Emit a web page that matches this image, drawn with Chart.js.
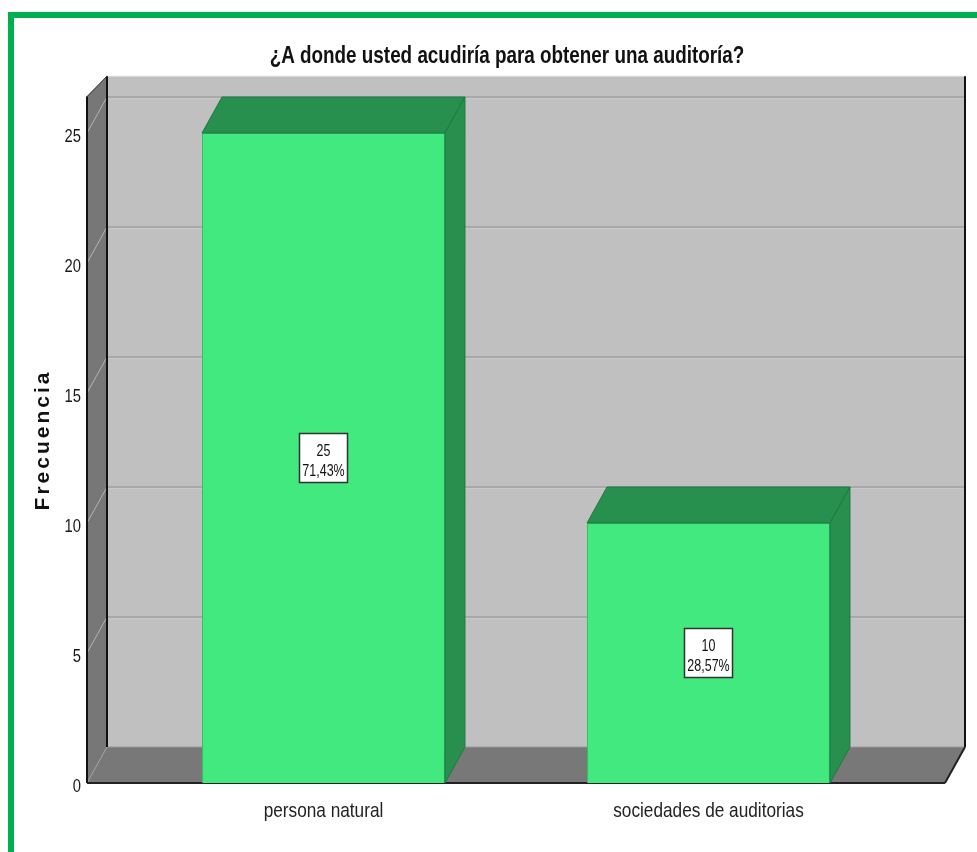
<!DOCTYPE html>
<html><head><meta charset="utf-8">
<script src="https://cdn.jsdelivr.net/npm/chart.js@4"></script>
<style>
html,body{margin:0;padding:0;background:#fff;overflow:hidden;}
#wrap{position:relative;width:977px;height:852px;}
#frame{position:absolute;left:8px;top:12px;width:990px;height:870px;border-left:6px solid #00B050;border-top:6px solid #00B050;box-sizing:border-box;pointer-events:none}
canvas{position:absolute;left:0;top:0}
</style></head>
<body><div id="wrap"><canvas id="c" width="977" height="852"></canvas><div id="frame"></div></div>
<script>
// ---- data ----
const categories = ['persona natural', 'sociedades de auditorias'];
const frequencies = [25, 10];
const percentLabels = ['71,43%', '28,57%'];
const yTicks = [0, 5, 10, 15, 20, 25];
const yMin = 0;
const yMax = 25;
const chartTitle = '¿A donde usted acudiría para obtener una auditoría?';
const yAxisTitle = 'Frecuencia';

// ---- styling ----
const SANS = "'Liberation Sans',Arial,sans-serif";
const NARROW_SCALE = 0.82;
const DEPTH_X = 20, DEPTH_Y = -36, SIDE = 44;
const WALL_TOP_BACK = 25.8, WALL_TOP_FRONT = 26.4;

function poly(ctx, pts, fill, stroke, lw) {
  ctx.beginPath();
  ctx.moveTo(pts[0][0], pts[0][1]);
  for (let i = 1; i < pts.length; i++) ctx.lineTo(pts[i][0], pts[i][1]);
  ctx.closePath();
  if (fill) { ctx.fillStyle = fill; ctx.fill(); }
  if (stroke) { ctx.strokeStyle = stroke; ctx.lineWidth = lw || 1; ctx.stroke(); }
}
function line(ctx, x1, y1, x2, y2, color, lw) {
  ctx.beginPath(); ctx.moveTo(x1, y1); ctx.lineTo(x2, y2);
  ctx.strokeStyle = color; ctx.lineWidth = lw; ctx.stroke();
}
// narrow (Arial-Narrow-like) text: horizontally condensed Liberation Sans
function narrowText(ctx, text, x, y, font, align, color, scale) {
  const s = scale || NARROW_SCALE;
  ctx.save();
  ctx.translate(x, y);
  ctx.scale(s, 1);
  ctx.font = font;
  ctx.fillStyle = color;
  ctx.textAlign = align;
  ctx.textBaseline = 'alphabetic';
  ctx.fillText(text, 0, 0);
  ctx.restore();
}

const threeD = {
  id: 'threeD',
  beforeDatasetsDraw(chart) {
    const { ctx, chartArea: a, scales: { y } } = chart;
    const dx = DEPTH_X, dy = DEPTH_Y;
    const y0 = y.getPixelForValue(0);
    const fl = a.left - SIDE, fr = a.right + SIDE;
    const topBack = y.getPixelForValue(WALL_TOP_BACK) + dy;
    const topFront = y.getPixelForValue(WALL_TOP_FRONT);
    ctx.save();
    // back wall
    ctx.fillStyle = '#C0C0C0';
    ctx.fillRect(fl + dx, topBack, fr - fl, y0 + dy - topBack);
    // back grid lines
    yTicks.forEach(v => {
      if (v === 0) return;
      const py = y.getPixelForValue(v) + dy;
      line(ctx, fl + dx, py, fr + dx, py, '#A8A8A8', 2);
      line(ctx, fl + dx, py + 1.5, fr + dx, py + 1.5, '#C9C9C9', 1);
    });
    // left wall
    poly(ctx, [[fl, y0], [fl, topFront], [fl + dx, topBack], [fl + dx, y0 + dy]], '#777777');
    yTicks.forEach(v => {
      if (v === 0) return;
      const py = y.getPixelForValue(v);
      line(ctx, fl, py, fl + dx, py + dy, '#B4B4B4', 1);
    });
    // floor
    poly(ctx, [[fl, y0], [fl + dx, y0 + dy], [fr + dx, y0 + dy], [fr, y0]], '#787878');
    line(ctx, fl + dx, y0 + dy, fr + dx, y0 + dy, '#9A9A9A', 1);
    line(ctx, fl, y0, fl + dx, y0 + dy, '#A0A0A0', 1);
    // edges
    line(ctx, fl + dx, topBack, fr + dx, topBack, '#E0E0E0', 1);
    line(ctx, fl + dx, topBack, fl + dx, y0 + dy, '#111', 2);
    line(ctx, fl, topFront, fl, y0, '#111', 2);
    line(ctx, fl, topFront, fl + dx, topBack, '#222', 1);
    line(ctx, fr + dx, topBack, fr + dx, y0 + dy, '#111', 2);
    line(ctx, fl, y0, fr, y0, '#222', 2);
    line(ctx, fr, y0, fr + dx, y0 + dy, '#222', 2);
    ctx.restore();
  },
  afterDatasetsDraw(chart) {
    const { ctx, scales: { y } } = chart;
    const dx = DEPTH_X, dy = DEPTH_Y;
    const meta = chart.getDatasetMeta(0);
    ctx.save();
    meta.data.forEach((bar, i) => {
      const p = bar.getProps(['x', 'y', 'base', 'width'], true);
      const l = p.x - p.width / 2, r = p.x + p.width / 2;
      poly(ctx, [[l, p.y], [l + dx, p.y + dy], [r + dx, p.y + dy], [r, p.y]], '#27904E', '#1E7840', 1);
      poly(ctx, [[r, p.y], [r + dx, p.y + dy], [r + dx, p.base + dy], [r, p.base]], '#27904E', '#1E7840', 1);
      // value label box
      const cy = y.getPixelForValue(frequencies[i] / 2);
      const bw = 48, bh = 49;
      ctx.fillStyle = '#FFFFFF';
      ctx.fillRect(p.x - bw / 2, cy - bh / 2, bw, bh);
      ctx.strokeStyle = '#333';
      ctx.lineWidth = 1.5;
      ctx.strokeRect(p.x - bw / 2, cy - bh / 2, bw, bh);
      narrowText(ctx, String(frequencies[i]), p.x, cy - 2.5, '16px ' + SANS, 'center', '#111', 0.78);
      narrowText(ctx, percentLabels[i], p.x, cy + 18, '16px ' + SANS, 'center', '#111', 0.78);
    });
    ctx.restore();
  },
  afterDraw(chart) {
    const { ctx, chartArea: a, scales: { x, y } } = chart;
    // title
    narrowText(ctx, chartTitle, 507, 63, 'bold 23px ' + SANS, 'center', '#111');
    // y tick labels (from the library's y scale)
    y.ticks.forEach(t => {
      const py = y.getPixelForValue(t.value);
      narrowText(ctx, String(t.value), a.left - SIDE - 6, py + 8.5, '18px ' + SANS, 'right', '#1a1a1a');
    });
    // category labels (from the library's x scale)
    categories.forEach((c, i) => {
      const px = x.getPixelForValue(i);
      narrowText(ctx, c, px, 817, '21px ' + SANS, 'center', '#222');
    });
    // y axis title
    ctx.save();
    ctx.translate(43, 440);
    ctx.rotate(-Math.PI / 2);
    ctx.font = 'bold 21px ' + SANS;
    try { ctx.letterSpacing = '3px'; } catch (e) {}
    ctx.fillStyle = '#111';
    ctx.textAlign = 'center';
    ctx.textBaseline = 'middle';
    ctx.fillText(yAxisTitle, 0, 0);
    ctx.restore();
  }
};

new Chart(document.getElementById('c'), {
  type: 'bar',
  data: {
    labels: categories,
    datasets: [{
      data: frequencies,
      backgroundColor: '#41E97E',
      borderColor: '#33C066',
      borderWidth: 1,
      categoryPercentage: 1,
      barPercentage: 0.631
    }]
  },
  options: {
    responsive: false,
    animation: false,
    devicePixelRatio: 1,
    layout: { padding: { left: 113, right: 76, top: 133, bottom: 0 } },
    plugins: {
      legend: { display: false },
      tooltip: { enabled: false },
      title: { display: false, text: chartTitle }
    },
    scales: {
      x: {
        type: 'category',
        offset: true,
        grid: { display: false },
        border: { display: false },
        ticks: { display: false },
        afterFit: s => { s.height = 69; }
      },
      y: {
        min: yMin,
        max: yMax,
        grid: { display: false },
        border: { display: false },
        afterBuildTicks: s => { s.ticks = yTicks.map(v => ({ value: v })); },
        ticks: { display: false },
        afterFit: s => { s.width = 18; }
      }
    }
  },
  plugins: [threeD]
});
</script>
</body></html>
